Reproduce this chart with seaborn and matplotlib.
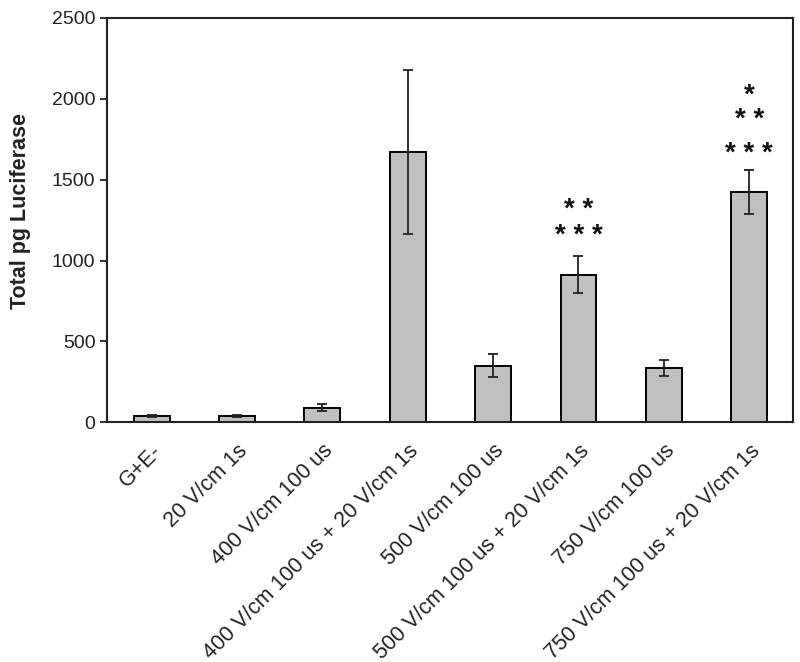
import pandas as pd
import numpy as np
import matplotlib.pyplot as plt
import seaborn as sns

# values
conditions = ["G+E-", "20 V/cm 1s", "400 V/cm 100 us", "400 V/cm 100 us + 20 V/cm 1s",
              "500 V/cm 100 us", "500 V/cm 100 us + 20 V/cm 1s",
              "750 V/cm 100 us", "750 V/cm 100 us + 20 V/cm 1s"]
luciferase = [40, 40, 90, 1670, 350, 912, 335, 1425]
errors = [6, 6, 22, 505, 70, 115, 50, 135]

# significance marks: (bar index, label, y position)
stars = [(5, "* *", 1333), (5, "* * *", 1173),
         (7, "*", 2043), (7, "* *", 1889), (7, "* * *", 1679)]

df = pd.DataFrame({"condition": conditions, "pg": luciferase})

sns.set_style("ticks")
plt.rcParams['font.family'] = ['Liberation Sans', 'DejaVu Sans']

fig = plt.figure(figsize=(8, 6.62), dpi=100)
ax = fig.add_axes([0.134, 0.362, 0.857, 0.611])

sns.barplot(x="condition", y="pg", data=df, color="#c0c0c0", width=0.42,
            edgecolor="black", linewidth=1.4, saturation=1, ax=ax)
ax.errorbar(np.arange(len(conditions)), luciferase, yerr=errors, fmt="none",
            ecolor="#222222", elinewidth=1.3, capsize=3.6, capthick=1.3)

for i, label, y in stars:
    ax.annotate(label, (i, y), xytext=(0, -2.5), textcoords="offset points",
                ha="center", va="center", fontsize=20,
                fontweight="bold", color="#111111")

ax.set_xlim(-0.52, 7.51)
ax.set_ylim(0, 2500)
ax.set_yticks([0, 500, 1000, 1500, 2000, 2500])
ax.set_xlabel("")
ax.set_ylabel("Total pg Luciferase", fontsize=15.5, fontweight="bold", color="#222222")
ax.yaxis.set_label_coords(-0.111, 0.522)
ax.tick_params(axis="y", labelsize=14, length=5, width=1.3, colors="#222222")
ax.tick_params(axis="x", labelsize=15.5, length=0, pad=13, colors="#222222")
plt.setp(ax.get_xticklabels(), rotation=45, ha="right", rotation_mode="anchor")
for side in ax.spines.values():
    side.set_linewidth(1.5)
    side.set_color("#222222")

fig.savefig("out.png", dpi=100)
